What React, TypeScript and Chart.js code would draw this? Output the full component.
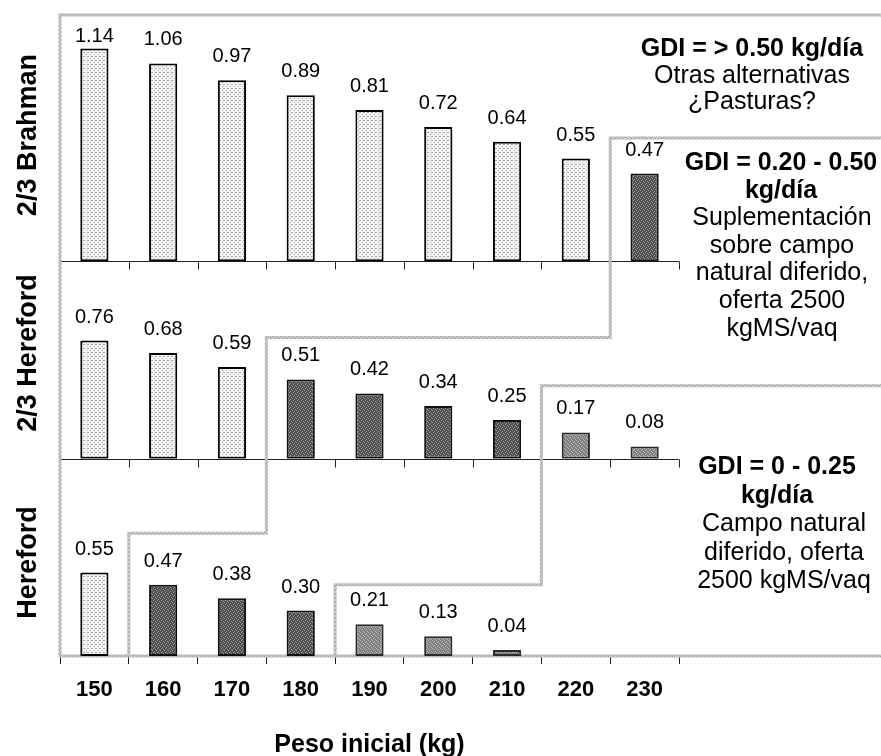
import React, { useEffect, useRef } from 'react';
import { Chart, registerables } from 'chart.js';

Chart.register(...registerables);

// ---------- data ----------
const categories = ['150', '160', '170', '180', '190', '200', '210', '220', '230'];
const brahman23 = [1.14, 1.06, 0.97, 0.89, 0.81, 0.72, 0.64, 0.55, 0.47];
const hereford23 = [0.76, 0.68, 0.59, 0.51, 0.42, 0.34, 0.25, 0.17, 0.08];
const hereford = [0.55, 0.47, 0.38, 0.3, 0.21, 0.13, 0.04, null, null];
const panelNames = ['2/3 Brahman', '2/3 Hereford', 'Hereford'];
const xTitle = 'Peso inicial (kg)';

// zone of each bar: A = > 0.50, B = 0.20 - 0.50, C = 0 - 0.25
const brahman23Zone = ['A', 'A', 'A', 'A', 'A', 'A', 'A', 'A', 'B'];
const hereford23Zone = ['A', 'A', 'A', 'B', 'B', 'B', 'B', 'C', 'C'];
const herefordZone = ['A', 'B', 'B', 'B', 'C', 'C', 'C', 'C', 'C'];

const panelMax = [1.32, 1.27, 1.3];

// zone boundary steps: first category of next zone, and step level (per panel)
const abFirstCat = [8, 3, 1];
const abLevel = [0.66, 0.78, 0.81];
const bcFirstCat = [null, 7, 4];
const bcLevel = [null, 0.47, 0.47];

const noteA = ['GDI = > 0.50 kg/día', 'Otras alternativas', '¿Pasturas?'];
const noteB = ['GDI = 0.20 - 0.50', 'kg/día', 'Suplementación', 'sobre campo', 'natural diferido,', 'oferta 2500', 'kgMS/vaq'];
const noteC = ['GDI = 0 - 0.25', 'kg/día', 'Campo natural', 'diferido, oferta', '2500 kgMS/vaq'];

const FONT = "'Liberation Sans', Arial, Helvetica, sans-serif";

function makePattern(base: string, dot: string, pts: number[][], size = 4) {
  const c = document.createElement('canvas');
  c.width = size;
  c.height = size;
  const g = c.getContext('2d')!;
  g.fillStyle = base;
  g.fillRect(0, 0, size, size);
  g.fillStyle = dot;
  pts.forEach(([x, y]) => g.fillRect(x, y, 1, 1));
  return g.createPattern(c, 'repeat')!;
}

export default function App() {
  const ref = useRef<HTMLCanvasElement | null>(null);

  useEffect(() => {
    const canvas = ref.current;
    if (!canvas) return;

    const fills: Record<string, CanvasPattern> = {
      A: makePattern('#f5f5f5', '#a4a4a4', [[0, 0], [2, 2], [3, 0]]),
      B: makePattern('#4c4c4c', '#a0a0a0', [[1, 0], [3, 1], [0, 2], [2, 3]]),
      C: makePattern('#7c7c7c', '#c2c2c2', [[0, 0], [2, 1], [1, 2], [3, 3]]),
    };
    const borders: Record<string, string> = { A: '#000', B: '#111', C: '#2a2a2a' };
    const linePat = makePattern('#c8c8c8', '#9c9c9c', [[0, 0], [2, 1], [1, 3], [3, 2]]);

    const zones = [brahman23Zone, hereford23Zone, herefordZone];
    const series = [brahman23, hereford23, hereford];
    const yIds = ['y1', 'y2', 'y3'];

    const custom = {
      id: 'custom',
      beforeDatasetsDraw(chart: any) {
        const ctx = chart.ctx as CanvasRenderingContext2D;
        const xs = chart.scales.x;
        const ys = yIds.map((id) => chart.scales[id]);
        const { left, right, top, bottom } = chart.chartArea;
        const W = chart.width;
        const cw = (xs.right - xs.left) / categories.length;
        const edge = (i: number) => xs.left + i * cw;

        ctx.save();
        // baselines of upper panels
        ctx.strokeStyle = '#222';
        ctx.lineWidth = 1;
        for (const s of [ys[0], ys[1]]) {
          const yb = Math.round(s.getPixelForValue(0)) + 0.5;
          ctx.beginPath();
          ctx.moveTo(left, yb);
          ctx.lineTo(right, yb);
          for (let i = 0; i <= categories.length; i++) {
            const ex = Math.round(edge(i)) + 0.5;
            ctx.moveTo(ex, yb);
            ctx.lineTo(ex, yb + 8);
          }
          ctx.stroke();
        }

        // zone outlines
        ctx.strokeStyle = linePat;
        ctx.lineWidth = 3;
        ctx.lineJoin = 'miter';
        ctx.beginPath();
        ctx.moveTo(W, top);
        ctx.lineTo(left, top);
        ctx.lineTo(left, bottom);
        ctx.lineTo(W, bottom);
        ctx.stroke();

        const step = (firstCats: (number | null)[], levels: (number | null)[]) => {
          let started = false;
          let prevX = 0;
          let lastPanel = 0;
          ctx.beginPath();
          for (let p = 0; p < 3; p++) {
            const fc = firstCats[p];
            const lv = levels[p];
            if (fc == null || lv == null) continue;
            const yv = ys[p].getPixelForValue(lv);
            const ex = edge(fc);
            if (!started) {
              ctx.moveTo(W, yv);
              started = true;
            } else {
              ctx.lineTo(prevX, yv);
            }
            ctx.lineTo(ex, yv);
            prevX = ex;
            lastPanel = p;
          }
          ctx.lineTo(prevX, ys[lastPanel].getPixelForValue(0));
          ctx.stroke();
        };
        step(abFirstCat, abLevel);
        step(bcFirstCat, bcLevel);
        ctx.restore();
      },
      afterDatasetsDraw(chart: any) {
        const ctx = chart.ctx as CanvasRenderingContext2D;
        const ys = yIds.map((id) => chart.scales[id]);
        ctx.save();
        ctx.fillStyle = '#000';
        // value labels
        ctx.font = `20px ${FONT}`;
        ctx.textAlign = 'center';
        ctx.textBaseline = 'alphabetic';
        series.forEach((arr, i) => {
          const meta = chart.getDatasetMeta(i);
          meta.data.forEach((bar: any, j: number) => {
            const v = arr[j];
            if (v == null) return;
            const yb = Math.max(bar.y - 18, ys[i].top + 27);
            ctx.fillText(v.toFixed(2), bar.x, yb);
          });
        });

        // panel names
        const nameOffsets = [-3, -7, 5];
        ctx.font = `bold 27px ${FONT}`;
        ctx.textBaseline = 'middle';
        panelNames.forEach((name, i) => {
          const cy = (ys[i].top + ys[i].bottom) / 2 + nameOffsets[i];
          ctx.save();
          ctx.translate(29, cy);
          ctx.rotate(-Math.PI / 2);
          ctx.fillText(name, 0, 0);
          ctx.restore();
        });

        // notes
        ctx.textBaseline = 'alphabetic';
        const blocks = [
          { lines: noteA, bold: 1, cxB: 752, cxN: 752, y0: 56, lh: 26.5 },
          { lines: noteB, bold: 2, cxB: 781, cxN: 782, y0: 170, lh: 27.6 },
          { lines: noteC, bold: 2, cxB: 777, cxN: 784, y0: 474, lh: 28.5 },
        ];
        blocks.forEach((b) => {
          b.lines.forEach((t, k) => {
            const isBold = k < b.bold;
            ctx.font = `${isBold ? 'bold ' : ''}25px ${FONT}`;
            ctx.fillText(t, isBold ? b.cxB : b.cxN, b.y0 + k * b.lh);
          });
        });

        // x title
        const xs = chart.scales.x;
        ctx.font = `bold 25px ${FONT}`;
        ctx.fillText(xTitle, (xs.left + xs.right) / 2, 752);
        ctx.restore();
      },
    };

    const panelWeights = [246, 197.5, 197];
    const yScales: any = {};
    yIds.forEach((id, k) => {
      yScales[id] = {
        type: 'linear',
        min: 0,
        max: panelMax[k],
        position: 'left',
        stack: 'panels',
        stackWeight: panelWeights[k],
        weight: 3 - k,
        display: true,
        grid: { display: false, drawTicks: false, tickLength: 0 },
        border: { display: false },
        ticks: { display: false },
      };
    });

    const chart = new Chart(canvas, {
      type: 'bar',
      data: {
        labels: categories,
        datasets: series.map((arr, i) => ({
          label: panelNames[i],
          data: arr as any,
          yAxisID: yIds[i],
          grouped: false,
          categoryPercentage: 1,
          barPercentage: 0.41,
          borderWidth: 2,
          borderSkipped: false,
          backgroundColor: (c: any) => fills[zones[i][c.dataIndex]] || '#fff',
          borderColor: (c: any) => borders[zones[i][c.dataIndex]] || '#000',
        })),
      },
      options: {
        responsive: false,
        animation: false,
        events: [],
        layout: { padding: { left: 60, right: 202, top: 15, bottom: 39.6 } },
        plugins: {
          legend: { display: false },
          tooltip: { enabled: false },
          title: { display: false },
        },
        scales: {
          x: {
            type: 'category',
            offset: true,
            grid: {
              display: true,
              drawOnChartArea: false,
              drawTicks: true,
              tickLength: 8,
              color: '#222',
              lineWidth: 1,
              offset: true,
            },
            border: { display: true, color: '#222', width: 1 },
            ticks: {
              color: '#000',
              font: { family: FONT, size: 22, weight: 'bold' },
              padding: 13,
              maxRotation: 0,
              autoSkip: false,
            },
          },
          ...yScales,
        },
      } as any,
      plugins: [custom],
    });

    return () => chart.destroy();
  }, []);

  return (
    <div style={{ position: 'absolute', left: 0, top: 0, width: 881, height: 756, background: '#fff' }}>
      <canvas ref={ref} width={881} height={756} style={{ width: 881, height: 756, display: 'block' }} />
    </div>
  );
}
